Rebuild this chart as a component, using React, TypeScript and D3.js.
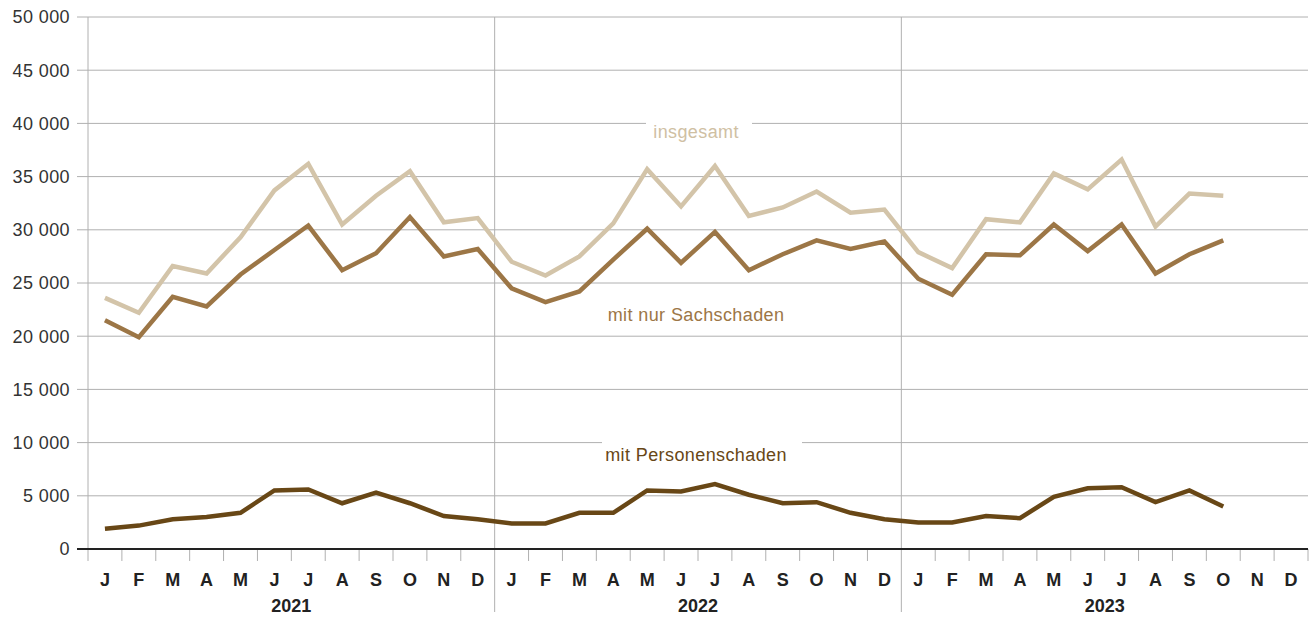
import React from "react";
import * as d3 from "d3";

const months = ["J","F","M","A","M","J","J","A","S","O","N","D"];
const years = ["2021","2022","2023"];
const yTicks = [0,5000,10000,15000,20000,25000,30000,35000,40000,45000,50000];

const insgesamt = [23600,22200,26600,25900,29300,33700,36200,30500,33200,35500,30700,31100,
  27000,25700,27500,30600,35700,32200,36000,31300,32100,33600,31600,31900,
  27900,26400,31000,30700,35300,33800,36600,30300,33400,33200];
const sachschaden = [21500,19900,23700,22800,25800,28100,30400,26200,27800,31200,27500,28200,
  24500,23200,24200,27200,30100,26900,29800,26200,27700,29000,28200,28900,
  25400,23900,27700,27600,30500,28000,30500,25900,27700,29000];
const personen = [1900,2200,2800,3000,3400,5500,5600,4300,5300,4300,3100,2800,
  2400,2400,3400,3400,5500,5400,6100,5100,4300,4400,3400,2800,
  2500,2500,3100,2900,4900,5700,5800,4400,5500,4000];

const W = 1314, H = 619;
const left = 88, right = 1308, top = 17, bottom = 549;
const font = "'Liberation Sans', Arial, sans-serif";

export default function App() {
  const idx = d3.range(36);
  const x = d3.scaleBand<number>().domain(idx).range([left, right]);
  const y = d3.scaleLinear().domain([0, 50000]).range([bottom, top]);
  const cx = (i: number) => (x(i) as number) + x.bandwidth() / 2;
  const line = d3.line<number>().x((_, i) => cx(i)).y(d => y(d));
  const fmt2 = (v: number) => (v >= 1000 ? `${Math.floor(v / 1000)} 000` : "0");

  const series = [
    { data: insgesamt, color: "#d3c4a9" },
    { data: sachschaden, color: "#9c7646" },
    { data: personen, color: "#684716" },
  ];

  const labels = [
    { text: "insgesamt", x: cx(17) + 15, y: y(39200), color: "#cfc0a3", gapY: y(40000), gap: [646, 752] },
    { text: "mit nur Sachschaden", x: cx(17) + 15, y: y(22000), color: "#9c7646", gapY: null, gap: null },
    { text: "mit Personenschaden", x: cx(17) + 15, y: y(8900), color: "#684716", gapY: y(10000), gap: [602, 802] },
  ];

  return (
    <svg width={W} height={H} style={{ position: "absolute", left: 0, top: 0, background: "#fff" }}>
      {yTicks.map(t => (
        <g key={t}>
          {t > 0 && <line x1={77} x2={right} y1={y(t)} y2={y(t)} stroke="#b0b0b0" strokeWidth={1} />}
          <text x={70} y={y(t)} dy="0.35em" textAnchor="end" fontFamily={font} fontSize={18} letterSpacing={0.4} fill="#333">{fmt2(t)}</text>
        </g>
      ))}
      {labels.filter(l => l.gap).map((l, i) => (
        <rect key={i} x={l.gap![0]} y={(l.gapY as number) - 2} width={l.gap![1] - l.gap![0]} height={4} fill="#fff" />
      ))}
      <line x1={left} x2={left} y1={top} y2={bottom + 12} stroke="#b0b0b0" strokeWidth={1} />
      {[12, 24].map(i => (
        <line key={i} x1={x(i) as number} x2={x(i) as number} y1={top} y2={612} stroke="#b0b0b0" strokeWidth={1} />
      ))}
      {d3.range(1, 37).filter(i => i !== 12 && i !== 24).map(i => {
        const xx = i === 36 ? right : (x(i) as number);
        return <line key={i} x1={xx} x2={xx} y1={bottom} y2={bottom + 12} stroke="#b0b0b0" strokeWidth={1} />;
      })}
      {series.map((s, i) => (
        <path key={i} d={line(s.data) || ""} fill="none" stroke={s.color} strokeWidth={4.5} strokeLinejoin="miter" />
      ))}
      <line x1={77} x2={right} y1={bottom} y2={bottom} stroke="#222" strokeWidth={2} />
      {idx.map(i => (
        <text key={i} x={cx(i)} y={586} textAnchor="middle" fontFamily={font} fontSize={18} fontWeight="bold" fill="#222">{months[i % 12]}</text>
      ))}
      {years.map((yr, k) => (
        <text key={yr} x={left + (right - left) / 6 * (2 * k + 1)} y={612} textAnchor="middle" fontFamily={font} fontSize={18} fontWeight="bold" fill="#222">{yr}</text>
      ))}
      {labels.map((l, i) => (
        <text key={i} x={l.x} y={l.y} dy="0.35em" textAnchor="middle" fontFamily={font} fontSize={18} letterSpacing={0.4} fill={l.color}>{l.text}</text>
      ))}
    </svg>
  );
}
